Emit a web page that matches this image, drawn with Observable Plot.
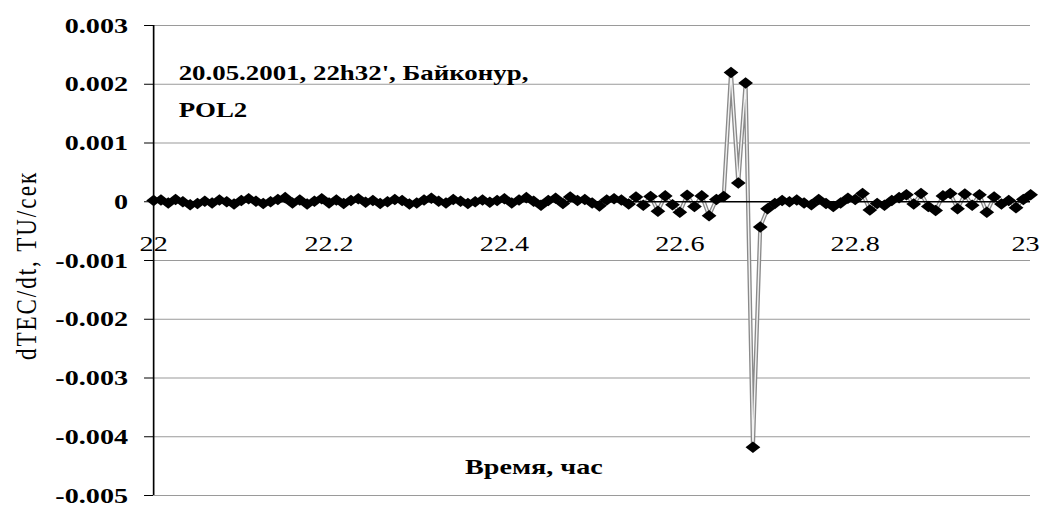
<!DOCTYPE html>
<html>
<head>
<meta charset="utf-8">
<script src="https://cdn.jsdelivr.net/npm/d3@7"></script>
<script src="https://cdn.jsdelivr.net/npm/@observablehq/plot@0.6"></script>
<style>
  html, body { margin: 0; padding: 0; background: white; }
</style>
</head>
<body>
<div id="chart"></div>
<script>
// Sampling: 30 s steps from 22.0 h to 23.0 h
const tStart = 22;
const tStep = 1 / 120;
// dTEC/dt values, in units of 1e-5 TU/s
const dTECx1e5 = [
  2, 3, -2, 4, 0, -5, -3, 1, -2, 3, 0, -4, 2, 5, 1, -3, 0, 4, 7, -2, 3, -4, 1, 5, -2,
  3, -3, 2, 5, -1, 2, -3, 0, 4, 2, -4, -2, 3, 6, 1, -2, 4, 1, -3, 0, 3, -1, 2, 5, -2, 3,
  7, 1, -6, 2, 6, -3, 8, 2, 4, -2, -7, 3, 5,
  3, -4, 8, -6, 9, -16, 10, -5, -18, 11, -8, 10, -24, 4, 9,
  220, 32, 202, -418, -43,
  -12, -3, 2, 0, 3, -2, -5, 4, -3, -8, -2, 6, 4, 14, -14, -3, -6, 2, 7, 12,
  -4, 14, -8, -15, 10, 14, -12, 13, -6, 12, -18, 8, -4, 2, -10, 4, 12
];
const yTicks = [0.003, 0.002, 0.001, 0, -0.001, -0.002, -0.003, -0.004, -0.005];
const xTicks = [22, 22.2, 22.4, 22.6, 22.8, 23];
const titleLine1 = "20.05.2001, 22h32', Байконур,";
const titleLine2 = "POL2";
const xLabel = "Время, час";
const yLabel = "dTEC/dt, TU/сек";

const data = dTECx1e5.map((v, i) => ({t: tStart + i * tStep, v: v * 1e-5}));

const W = 1040, H = 505, S = 1.28; // picture is stretched horizontally
const W0 = W / S;
const lastTick = xTicks[xTicks.length - 1];
const SERIF = "Liberation Serif";

const svg = Plot.plot({
  width: W0,
  height: H,
  marginLeft: 153 / S,
  marginRight: 10 / S,
  marginTop: 25,
  marginBottom: 10,
  style: {background: "white", color: "black", fontFamily: SERIF},
  x: {domain: [22, 23], axis: null},
  y: {domain: [-0.005, 0.003], axis: null},
  marks: [
    Plot.gridY(yTicks.filter(d => d !== 0), {stroke: "#9a9a9a", strokeOpacity: 1, strokeWidth: 1}),
    Plot.axisY({ticks: yTicks, tickSize: 7, tickPadding: 13, fontSize: 22, fontWeight: "bold", fontFamily: SERIF, label: null,
      tickFormat: d => d === 0 ? "0" : d.toFixed(3)}),
    Plot.ruleX([22], {stroke: "black", strokeWidth: 1.3}),
    Plot.line(data, {x: "t", y: "v", stroke: "#8a8a8a", strokeWidth: 3.2}),
    Plot.line(data, {x: "t", y: "v", stroke: "#f2f2f2", strokeWidth: 1.1}),
    Plot.ruleY([0], {stroke: "black", strokeWidth: 1.3}),
    Plot.dot(data, {x: "t", y: "v", symbol: "diamond2", r: 5.2, fill: "black", stroke: "none"}),
    Plot.text(xTicks.filter(d => d !== lastTick), {x: d => d, y: 0, dy: 42, text: d => String(d), fontSize: 22, fontFamily: SERIF}),
    Plot.text([lastTick], {x: d => d, y: 0, dy: 42, dx: 7, textAnchor: "end", text: d => String(d), fontSize: 22, fontFamily: SERIF}),
    Plot.text([titleLine1], {x: 22.0285, y: 0.00207, text: d => d, textAnchor: "start", lineAnchor: "bottom", fontSize: 21, fontWeight: "bold", fontFamily: SERIF}),
    Plot.text([titleLine2], {x: 22.0285, y: 0.00144, text: d => d, textAnchor: "start", lineAnchor: "bottom", fontSize: 21, fontWeight: "bold", fontFamily: SERIF}),
    Plot.text([xLabel], {x: 22.355, y: -0.00463, text: d => d, textAnchor: "start", lineAnchor: "bottom", fontSize: 22, fontWeight: "bold", fontFamily: SERIF}),
    Plot.text([yLabel], {frameAnchor: "left", dx: 20 - 153 / S, dy: 5, textAnchor: "middle", text: d => d, rotate: -90, fontSize: 23, fontFamily: SERIF})
  ]
});

d3.select(svg).selectAll("text").filter(function () { return this.textContent === yLabel; })
  .style("letter-spacing", "2px");
svg.setAttribute("preserveAspectRatio", "none");
svg.setAttribute("width", W);
svg.setAttribute("height", H);
svg.style.width = W + "px";
svg.style.height = H + "px";
svg.style.maxWidth = "none";
svg.style.overflow = "visible";
document.getElementById("chart").appendChild(svg);
</script>
</body>
</html>
